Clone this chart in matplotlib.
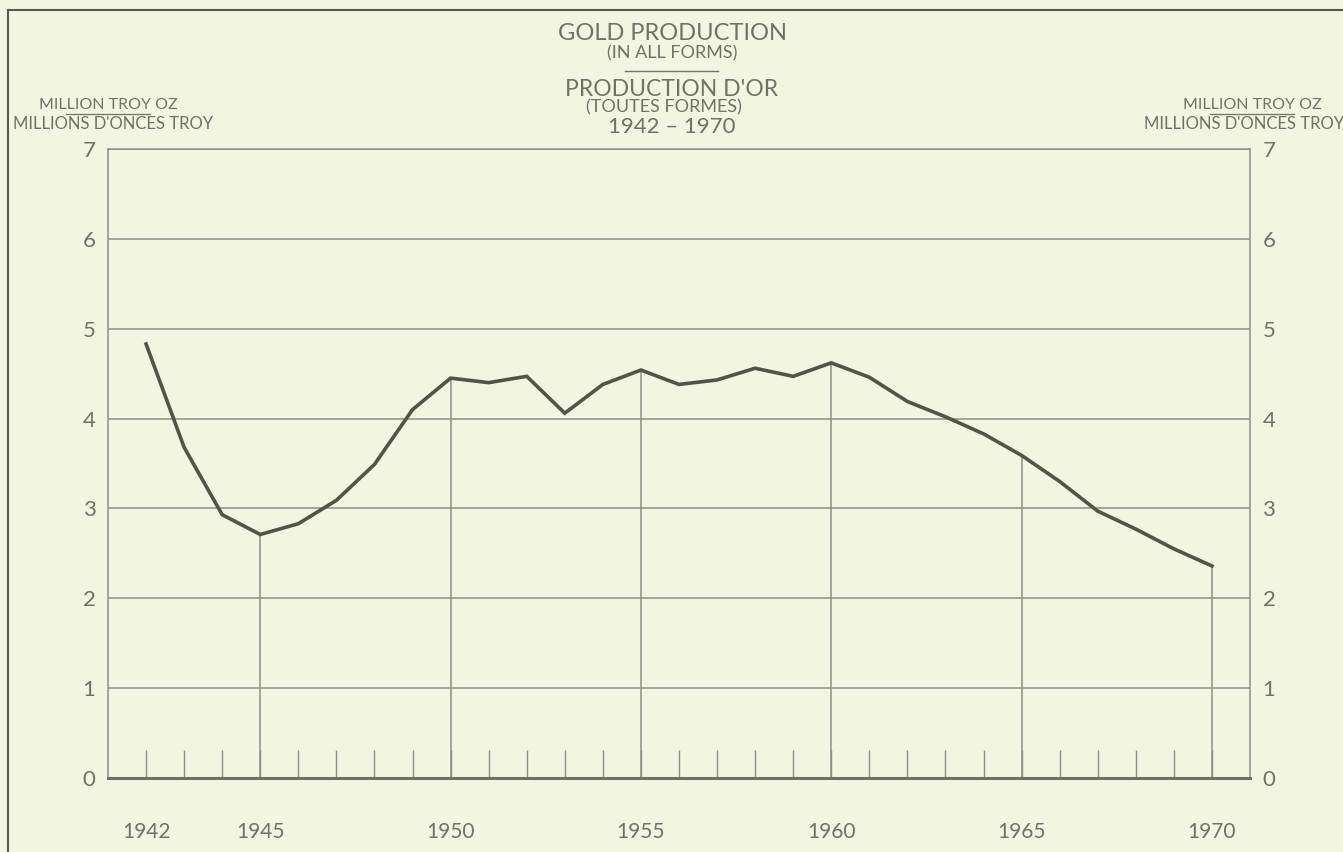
import matplotlib
matplotlib.use("Agg")
import matplotlib.pyplot as plt
from matplotlib.lines import Line2D

# data
years = list(range(1942, 1971))
production = [4.83, 3.68, 2.93, 2.71, 2.83, 3.09, 3.49, 4.10, 4.45, 4.40,
              4.47, 4.06, 4.38, 4.54, 4.38, 4.43, 4.56, 4.47, 4.62, 4.46,
              4.19, 4.02, 3.83, 3.59, 3.30, 2.97, 2.77, 2.55, 2.36]
year_labels = [1942, 1945, 1950, 1955, 1960, 1965, 1970]
drop_years = [1945, 1950, 1955, 1960, 1965, 1970]
y_ticks = [0, 1, 2, 3, 4, 5, 6, 7]

bg = "#f2f5e1"
ink = "#6d7463"
curve = "#4f5648"
grid = "#8c9282"

plt.rcParams['font.family'] = ['Lato', 'DejaVu Sans']

fig = plt.figure(figsize=(13.43, 8.52), dpi=100, facecolor=bg)
ax = fig.add_axes([108/1343, 74/852, 1142/1343, 629/852])
ax.set_facecolor(bg)

ax.set_xlim(1941, 1971)
ax.set_ylim(0, 7)

# horizontal rules
for v in y_ticks[1:]:
    ax.axhline(v, color=grid, lw=1.1, zorder=1)

# vertical rules only run up to the curve
for yr in drop_years:
    ax.vlines(yr, 0, production[years.index(yr)], color=grid, lw=1.1, zorder=1)

ax.plot(years, production, color=curve, lw=2.6, solid_joinstyle='miter', zorder=3)

for s in ['left', 'right', 'top']:
    ax.spines[s].set_color(grid)
    ax.spines[s].set_linewidth(1.1)
ax.spines['bottom'].set_color(ink)
ax.spines['bottom'].set_linewidth(2.2)

# year ticks inside plot
ax.set_xticks(years, minor=True)
ax.set_xticks(year_labels)
ax.set_xticklabels([str(y) for y in year_labels])
ax.tick_params(axis='x', which='both', direction='in', length=20, width=1.0,
               color=grid, pad=32, labelsize=15, labelcolor=ink)
ax.tick_params(axis='x', which='minor', labelbottom=False)

ax.set_yticks(y_ticks)
ax.set_yticklabels([str(v) for v in y_ticks])
ax.tick_params(axis='y', which='both', length=0, pad=9, labelsize=16,
               labelcolor=ink, labelleft=True, labelright=True)

# titles
tkw = dict(ha='center', va='center', color=ink, transform=fig.transFigure)
cx = 672 / 1343
fig.text(cx, 1 - 33/852, "GOLD PRODUCTION", fontsize=17, **tkw)
fig.text(cx, 1 - 53/852, "(IN ALL FORMS)", fontsize=13, **tkw)
fig.add_artist(Line2D([625/1343, 718/1343], [1 - 71/852, 1 - 71/852],
                      color=ink, lw=1.0))
fig.text(cx, 1 - 89/852, "PRODUCTION D'OR", fontsize=16.5, **tkw)
fig.text(664/1343, 1 - 107/852, "(TOUTES FORMES)", fontsize=13, **tkw)
fig.text(cx, 1 - 127/852, "1942 \u2013 1970", fontsize=16, **tkw)

# unit labels, both sides
for xa, xb, x0, x1 in [(108, 113, 66, 150), (1252, 1244, 1210, 1294)]:
    fig.text(xa/1343, 1 - 105/852, "MILLION TROY OZ", fontsize=11.5, **tkw)
    fig.add_artist(Line2D([x0/1343, x1/1343], [1 - 114/852, 1 - 114/852],
                          color=ink, lw=0.9))
    fig.text(xb/1343, 1 - 124/852, "MILLIONS D'ONCES TROY", fontsize=12, **tkw)

# scan border on top and left
fig.add_artist(Line2D([8/1343, 1], [1 - 10/852, 1 - 10/852], color="#555b4c", lw=1.5))
fig.add_artist(Line2D([8/1343, 8/1343], [0, 1 - 10/852], color="#555b4c", lw=1.5))

fig.savefig("out.png", dpi=100, facecolor=bg)
